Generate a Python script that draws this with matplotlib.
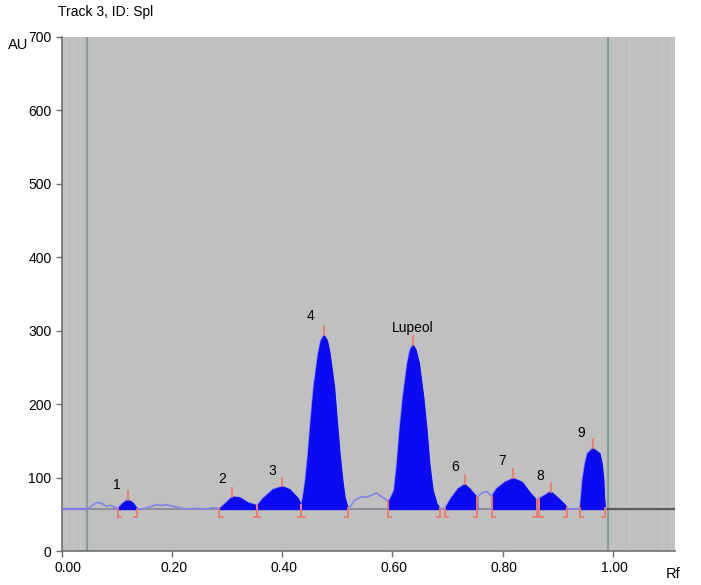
import matplotlib
matplotlib.use('Agg')
import numpy as np
import matplotlib.pyplot as plt
import matplotlib.transforms as mtransforms

plt.rcParams['font.family'] = ['Liberation Sans', 'DejaVu Sans']

# densitogram trace (Rf, AU)
trace_rf = [0.000, 0.046, 0.055, 0.063, 0.072, 0.080, 0.088, 0.095, 0.101,
            0.110, 0.119, 0.128, 0.137, 0.150, 0.163, 0.171, 0.182, 0.189,
            0.201, 0.213, 0.225, 0.238, 0.250, 0.262, 0.274, 0.286, 0.298,
            0.309, 0.322, 0.337, 0.354, 0.365, 0.383, 0.400, 0.413, 0.428,
            0.4345, 0.4375, 0.442, 0.4466, 0.4515, 0.457, 0.465, 0.470, 0.4755,
            0.481, 0.486, 0.494, 0.499, 0.504, 0.509, 0.513, 0.519,
            0.525, 0.531, 0.544, 0.553, 0.562, 0.571, 0.580, 0.587,
            0.592, 0.595, 0.603, 0.608, 0.613, 0.619, 0.627, 0.632, 0.637,
            0.642, 0.648, 0.656, 0.662, 0.667, 0.673, 0.680, 0.686,
            0.690, 0.695, 0.707, 0.719, 0.731, 0.740, 0.750, 0.754, 0.762,
            0.771, 0.780, 0.789, 0.804, 0.819, 0.835, 0.850, 0.862, 0.867,
            0.887, 0.901, 0.913, 0.917, 0.927, 0.9405, 0.9424, 0.945, 0.9496,
            0.954, 0.9635, 0.976, 0.980, 0.983, 0.9842, 0.986]
trace_au = [57, 57, 62, 66, 65, 61, 62, 60, 58,
            65, 70, 66, 57, 58, 61, 63, 62, 63,
            61, 59, 57, 58, 58, 57, 59, 58, 66,
            74, 73, 66, 62, 72, 84, 88, 84, 72,
            62, 74, 97, 133, 178, 224, 269, 287, 294,
            287, 269, 224, 178, 133, 97, 74, 58,
            62, 69, 74, 73, 76, 79, 74, 71,
            68, 70, 83, 119, 165, 210, 256, 274, 281,
            274, 256, 210, 165, 119, 83, 65, 58,
            57, 58, 73, 85, 91, 85, 76, 73, 79,
            81, 75, 85, 94, 99, 94, 79, 69, 72,
            81, 72, 63, 58, 57, 58, 74, 97, 119,
            133, 140, 133, 119, 97, 74, 58]

baseline = 57
peak_start = [0.101, 0.286, 0.354, 0.4345, 0.592, 0.695, 0.780, 0.867, 0.9405]
peak_end = [0.137, 0.354, 0.4345, 0.519, 0.686, 0.754, 0.862, 0.917, 0.986]
peak_top = [0.119, 0.309, 0.400, 0.4755, 0.637, 0.731, 0.819, 0.887, 0.9635]
peak_names = ['1', '2', '3', '4', 'Lupeol', '6', '7', '8', '9']
label_rf = [0.099, 0.291, 0.381, 0.451, 0.637, 0.713, 0.800, 0.868, 0.942]
label_au = [90, 98, 109, 320, 304, 114, 123, 102, 161]

rf = np.array(trace_rf)
au = np.array(trace_au, dtype=float)

fig = plt.figure(figsize=(7.01, 5.85), dpi=100)
ax = fig.add_axes([0.0884, 0.0581, 0.8745, 0.8787])
ax.set_facecolor('#c0c0c0')
ax.set_xlim(0, 1.113)
ax.set_ylim(0, 700)

# faint scan stripes at the edges
for x in [0.008, 0.02, 0.032, 1.0, 1.03, 1.09, 1.105]:
    ax.axvline(x, color='#c6c6c6', lw=1, zorder=0.5)

# track limits
ax.axvline(0.046, color='#8a9e98', lw=1.6, zorder=1)
ax.axvline(0.991, color='#8a9e98', lw=1.6, zorder=1)

# baseline
ax.plot([0, 0.046], [baseline, baseline], color='#6c6cde', lw=1.6, zorder=2)
ax.plot([0.046, 0.991], [baseline, baseline], color='#858595', lw=1.2, zorder=2)
ax.plot([0.991, 1.113], [baseline, baseline], color='#5a5a5a', lw=1.6, zorder=2)

# raw trace
ax.plot(rf, au, color='#8484e8', lw=1.2, zorder=3)

# integrated peaks
for s, e in zip(peak_start, peak_end):
    m = (rf >= s - 1e-9) & (rf <= e + 1e-9)
    ax.fill_between(rf[m], baseline, au[m], color='#0a0af5', lw=0.8,
                    edgecolor='#0a0af5', zorder=4)

mark = '#f07a6a'
for s, e in zip(peak_start, peak_end):
    for x, d in [(s, 0.006), (e, -0.006)]:
        yv = np.interp(x, rf, au)
        ax.plot([x, x], [baseline - 11, yv], color=mark, lw=1.3, zorder=5)
        ax.plot([x, x + d], [baseline - 11, baseline - 11], color=mark, lw=1.3, zorder=5)
for t in peak_top:
    yv = np.interp(t, rf, au)
    ax.plot([t, t], [yv, yv + 12], color=mark, lw=1.3, zorder=5)

for n, x, y in zip(peak_names, label_rf, label_au):
    ax.text(x, y, n, ha='center', va='center', fontsize=10, zorder=6)

ax.set_xticks([0, 0.2, 0.4, 0.6, 0.8, 1.0])
ax.set_xticklabels(['0.00', '0.20', '0.40', '0.60', '0.80', '1.00'])
ax.set_yticks(range(0, 701, 100))
ax.tick_params(axis='both', labelsize=10, color='#707070', length=4, width=1)
ax.tick_params(axis='x', pad=3)
for i, lab in enumerate(ax.get_xticklabels()):
    dx = 6 if i == 0 else 1.5
    lab.set_transform(lab.get_transform() +
                      mtransforms.ScaledTranslation(dx / 100, 0, fig.dpi_scale_trans))
for sp in ['top', 'right']:
    ax.spines[sp].set_visible(False)
for sp in ['left', 'bottom']:
    ax.spines[sp].set_color('#707070')
    ax.spines[sp].set_linewidth(1.2)

fig.text(58 / 701, 1 - 12 / 585, 'Track 3, ID: Spl', fontsize=10, ha='left', va='center')
fig.text(8 / 701, 1 - 45 / 585, 'AU', fontsize=10.5, ha='left', va='center')
fig.text(666 / 701, 1 - 574 / 585, 'Rf', fontsize=10.5, ha='left', va='center')

fig.savefig('out.png', dpi=100)
